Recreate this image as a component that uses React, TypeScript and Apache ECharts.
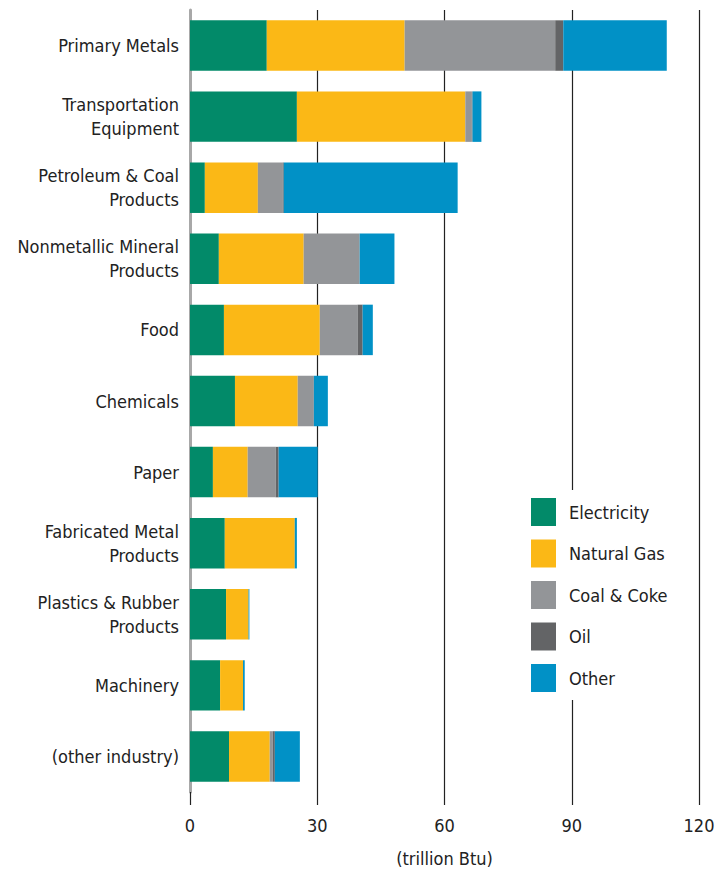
import React, { useEffect, useRef } from "react";
import * as echarts from "echarts";

const categories = [
  "Primary Metals",
  "Transportation\nEquipment",
  "Petroleum & Coal\nProducts",
  "Nonmetallic Mineral\nProducts",
  "Food",
  "Chemicals",
  "Paper",
  "Fabricated Metal\nProducts",
  "Plastics & Rubber\nProducts",
  "Machinery",
  "(other industry)",
];

const electricity = [18.1, 25.2, 3.5, 6.8, 8.0, 10.6, 5.4, 8.2, 8.5, 7.1, 9.2];
const naturalGas = [32.5, 39.7, 12.5, 20.0, 22.6, 14.8, 8.2, 16.5, 5.3, 5.4, 9.6];
const coalCoke = [35.5, 1.5, 5.9, 13.2, 8.9, 3.8, 6.6, 0, 0, 0, 0.7];
const oil = [1.9, 0.2, 0.2, 0, 1.2, 0, 0.7, 0, 0, 0, 0.5];
const other = [24.4, 2.1, 41.0, 8.2, 2.4, 3.3, 9.2, 0.5, 0.2, 0.4, 5.9];

const seriesNames = ["Electricity", "Natural Gas", "Coal & Coke", "Oil", "Other"];
const seriesColors = ["#028a69", "#fbb816", "#939598", "#636466", "#0191c6"];
const seriesData = [electricity, naturalGas, coalCoke, oil, other];

const xTicks = [0, 30, 60, 90, 120];

const FONT = "'Liberation Sans Narrow', 'DejaVu Sans Condensed', Roboto, sans-serif";

export default function App() {
  const ref = useRef<HTMLDivElement>(null);
  useEffect(() => {
    if (!ref.current) return;
    const chart = echarts.init(ref.current, undefined, { renderer: "svg" });
    chart.setOption({
      animation: false,
      backgroundColor: "#ffffff",
      grid: { left: 190, right: 22, top: 10, bottom: 72, containLabel: false },
      xAxis: {
        type: "value",
        min: xTicks[0],
        max: xTicks[xTicks.length - 1],
        interval: 30,
        name: "(trillion Btu)",
        nameLocation: "middle",
        nameGap: 57,
        nameTextStyle: { fontFamily: FONT, fontSize: 18, color: "#222" },
        axisLine: { show: false },
        axisTick: { show: true, length: 13, lineStyle: { color: "#222", width: 1.2 } },
        axisLabel: { fontFamily: FONT, fontSize: 18, color: "#222", margin: 24 },
        splitLine: { show: true, lineStyle: { color: "#222", width: 1.2 } },
      },
      yAxis: {
        type: "category",
        data: categories,
        inverse: true,
        axisLine: { show: true, lineStyle: { color: "#a8a8a8", width: 3 } },
        axisTick: { show: false },
        axisLabel: {
          fontFamily: FONT,
          fontSize: 18,
          color: "#222",
          margin: 11,
          lineHeight: 24,
          align: "right",
          padding: [8, 0, 0, 0],
        },
      },
      legend: {
        orient: "vertical",
        left: 521,
        top: 490,
        padding: [8, 30, 8, 10],
        backgroundColor: "#ffffff",
        itemWidth: 25,
        itemHeight: 28,
        itemGap: 13.5,
        icon: "rect",
        textStyle: { fontFamily: FONT, fontSize: 18, color: "#222", padding: [0, 0, 0, 8] },
        data: seriesNames,
      },
      series: seriesNames.map((name, i) => ({
        name,
        type: "bar",
        stack: "total",
        barCategoryGap: "29%",
        itemStyle: { color: seriesColors[i] },
        data: seriesData[i],
      })),
    });
    return () => chart.dispose();
  }, []);
  return (
    <div
      ref={ref}
      style={{ position: "fixed", left: 0, top: 0, width: 721, height: 872 }}
    />
  );
}
